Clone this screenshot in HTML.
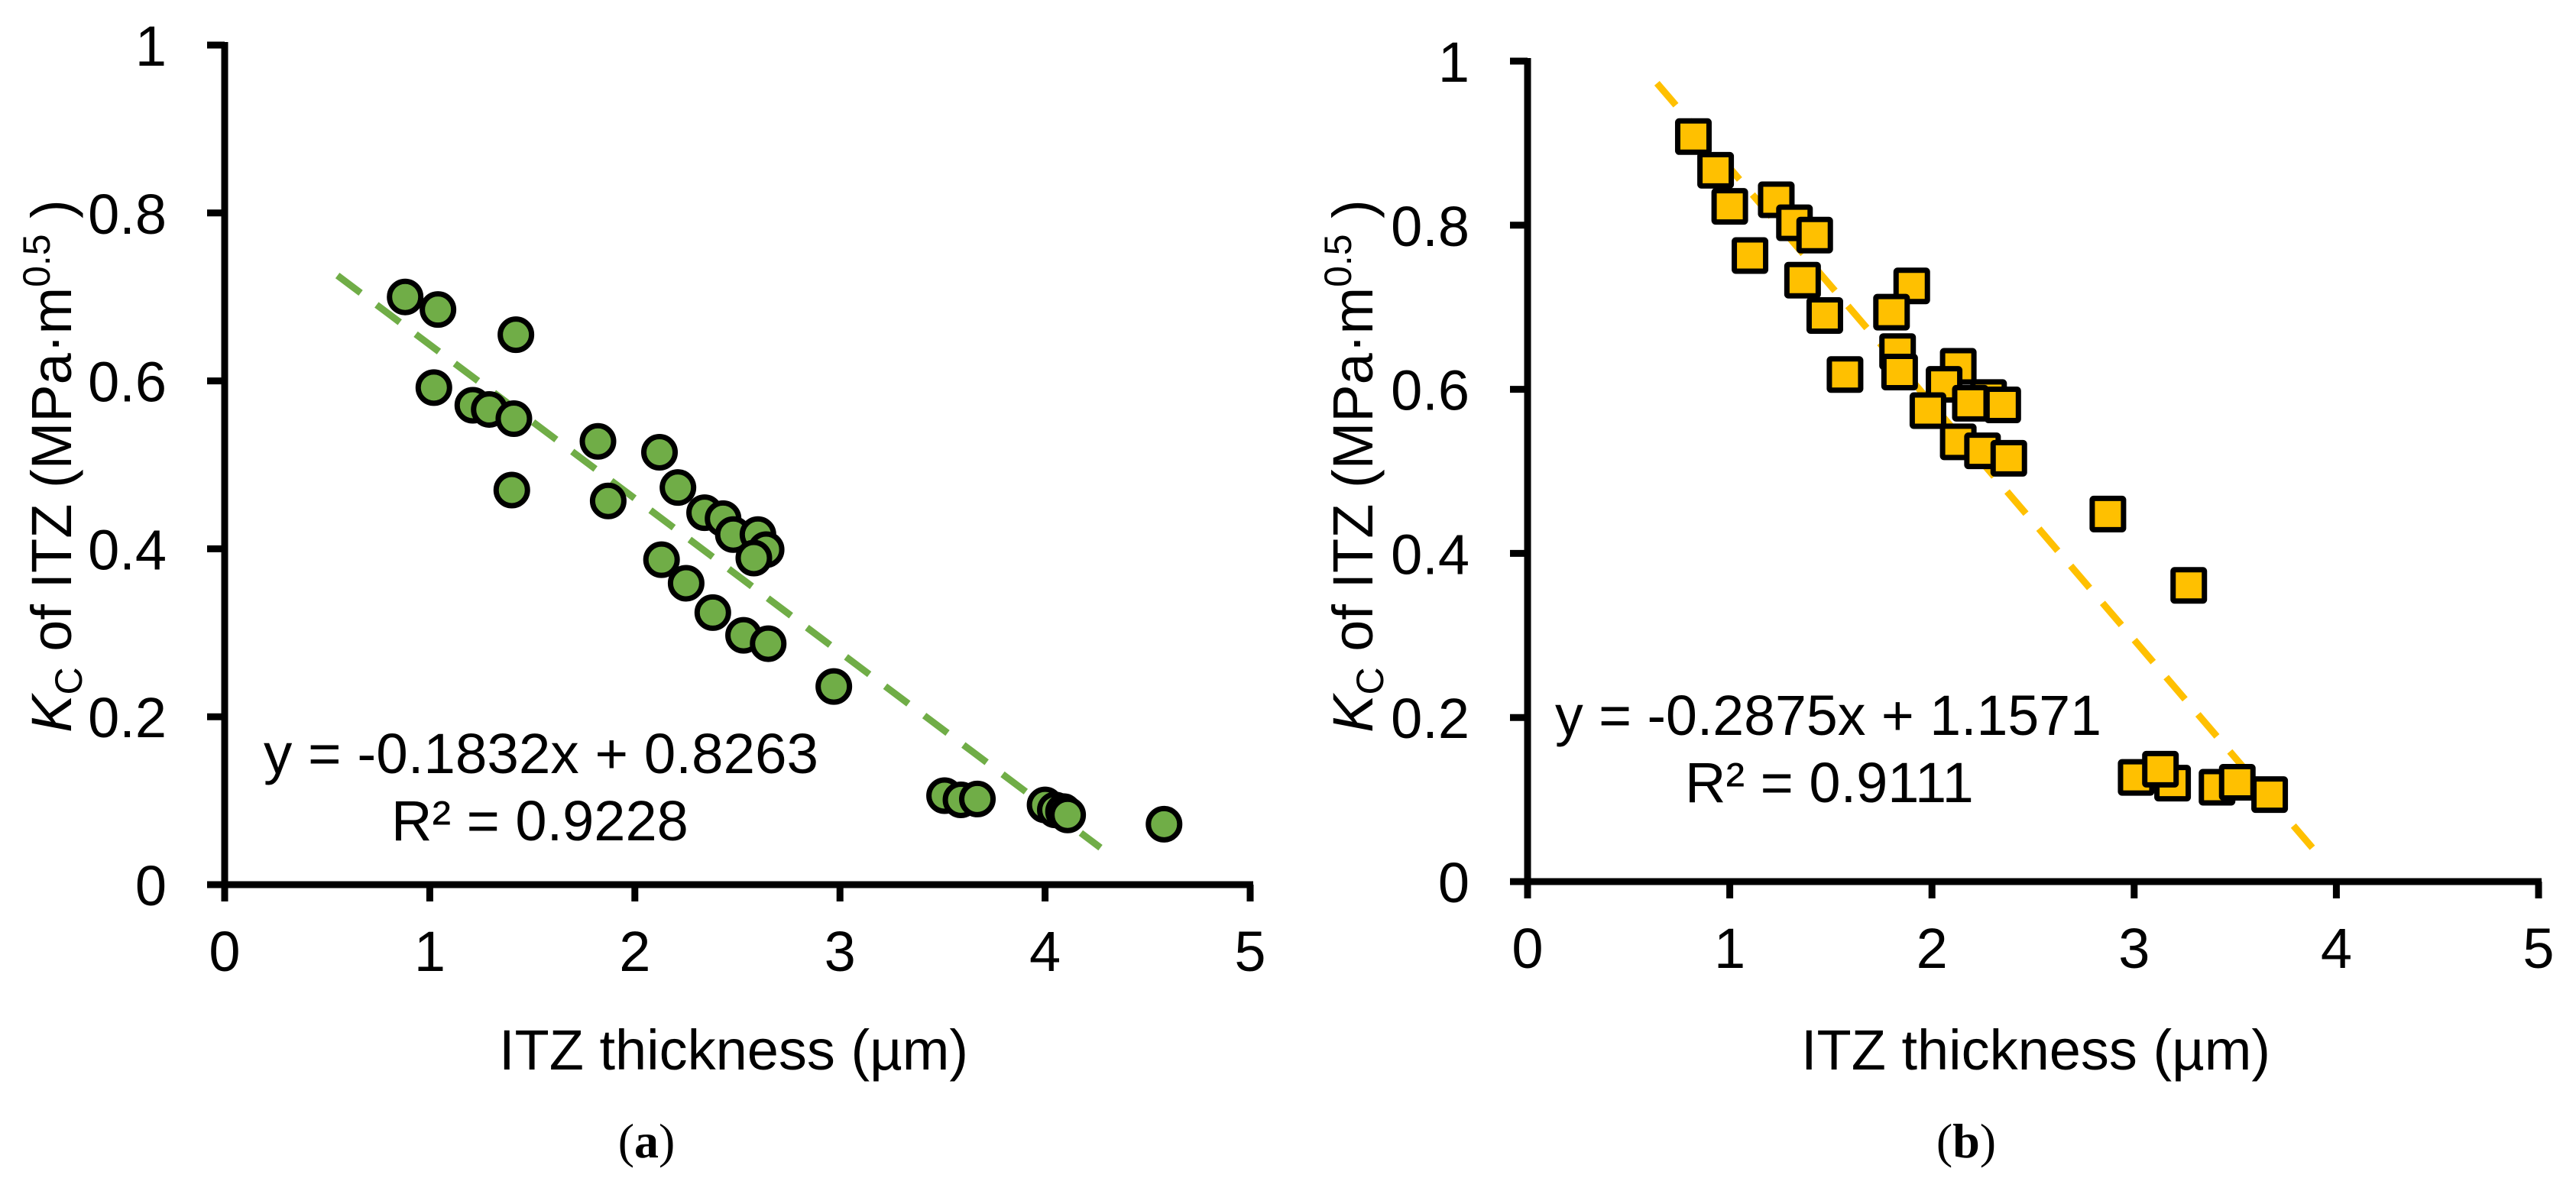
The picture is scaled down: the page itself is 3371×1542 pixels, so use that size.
<!DOCTYPE html>
<html><head><meta charset="utf-8"><style>
html,body{margin:0;padding:0;background:#fff;}
svg{display:block;font-family:"Liberation Sans",Arial,sans-serif;}
</style></head>
<body>
<svg id="fig" width="3371" height="1542" viewBox="0 0 3371 1542" xmlns="http://www.w3.org/2000/svg">
<g id="chartA"></g>
<g id="chartB"></g>
</svg>
<script>
// ---- data: chart (a) ----
const aX = [0.88,1.04,1.42,1.02,1.21,1.29,1.41,1.40,1.82,1.87,2.12,2.21,2.34,2.43,2.48,2.60,2.64,2.58,2.13,2.25,2.38,2.53,2.65,2.97,3.51,3.59,3.67,4.00,4.05,4.09,4.11,4.58];
const aY = [0.70,0.685,0.655,0.592,0.571,0.566,0.555,0.470,0.528,0.457,0.515,0.473,0.443,0.436,0.417,0.417,0.399,0.389,0.387,0.359,0.324,0.297,0.287,0.236,0.106,0.101,0.102,0.095,0.089,0.087,0.083,0.072];
const aSlope = -0.1832, aIntercept = 0.8263;
const aTrendRange = [0.55, 4.27];
// ---- data: chart (b) ----
const bX = [0.82,0.93,1.00,1.23,1.32,1.42,1.10,1.36,1.47,1.90,1.80,1.57,1.83,1.84,2.13,2.06,1.98,2.28,2.19,2.35,2.13,2.25,2.38,2.87,3.27,3.01,3.19,3.13,3.41,3.51,3.67];
const bY = [0.908,0.867,0.823,0.831,0.803,0.788,0.763,0.733,0.690,0.726,0.694,0.618,0.646,0.621,0.628,0.606,0.574,0.590,0.583,0.581,0.536,0.525,0.516,0.448,0.361,0.127,0.120,0.137,0.115,0.121,0.106];
const bSlope = -0.2875, bIntercept = 1.1571;
const bTrendRange = [0.64, 3.91];
// ---- ticks ----
const xTicks = [0,1,2,3,4,5];
const yTicks = [0,0.2,0.4,0.6,0.8,1];
const yTickLabels = ["0","0.2","0.4","0.6","0.8","1"];

const NS = "http://www.w3.org/2000/svg";
function mk(tag, attrs, parent){
  const e = document.createElementNS(NS, tag);
  for (const k in attrs) e.setAttribute(k, attrs[k]);
  parent.appendChild(e);
  return e;
}

function drawChart(g, cfg){
  const sx = v => cfg.x0 + v*(cfg.x5-cfg.x0)/5;
  const sy = v => cfg.y0 - v*(cfg.y0-cfg.y1);
  // axes
  const yAxis = mk('line',{x1:sx(0),y1:sy(1)-4,x2:sx(0),y2:sy(0)+4,stroke:'#000','stroke-width':9},g);
  
  
  const xAxis = mk('line',{x1:sx(0)-23,y1:sy(0),x2:sx(5)+4,y2:sy(0),stroke:'#000','stroke-width':9},g);
  
  
  yTicks.forEach((t,i)=>{
    const tk = mk('line',{x1:sx(0)-23,y1:sy(t),x2:sx(0),y2:sy(t),stroke:'#000','stroke-width':9},g);
    
    
    const lb = mk('text',{x:sx(0)-76,y:sy(t)+27,'font-size':74,'text-anchor':'end',fill:'#000'},g);
    lb.textContent = yTickLabels[i];
    
    
  });
  xTicks.forEach(t=>{
    const tk = mk('line',{x1:sx(t),y1:sy(0),x2:sx(t),y2:sy(0)+22,stroke:'#000','stroke-width':9},g);
    
    
    const lb = mk('text',{x:sx(t),y:sy(0)+113,'font-size':74,'text-anchor':'middle',fill:'#000'},g);
    lb.textContent = String(t);
    
    
  });
  // trendline
  const r = cfg.range;
  const tl = mk('line',{x1:sx(r[0]),y1:sy(cfg.m*r[0]+cfg.c),x2:sx(r[1]),y2:sy(cfg.m*r[1]+cfg.c),stroke:cfg.color,'stroke-width':9,'stroke-dasharray':'38 26'},g);
  
  
  // points
  cfg.xs.forEach((xv,i)=>{
    const cx = sx(xv), cy = sy(cfg.ys[i]);
    let p;
    if (cfg.shape==='circle'){
      p = mk('circle',{cx:cx,cy:cy,r:20.5,fill:cfg.color,stroke:'#000','stroke-width':7},g);
    } else {
      p = mk('rect',{x:cx-20.5,y:cy-20.5,width:41,height:41,rx:2,fill:cfg.color,stroke:'#000','stroke-width':7},g);
    }
    
    
  });
  // equation
  const eq = mk('text',{x:cfg.eqX,y:cfg.eqY,'font-size':74,fill:'#000',textLength:cfg.eqW,lengthAdjust:'spacingAndGlyphs'},g);
  eq.textContent = cfg.eq;
  
  
  const r2 = mk('text',{x:cfg.r2X,y:cfg.r2Y,'font-size':74,fill:'#000'},g);
  r2.textContent = cfg.r2;
  
  
  // x title
  const xt = mk('text',{x:cfg.xtX,y:1400,'font-size':74,'text-anchor':'middle',fill:'#000'},g);
  xt.textContent = 'ITZ thickness (µm)';
  
  
  // y title
  const yt = mk('text',{x:0,y:0,'font-size':74,'text-anchor':'middle',fill:'#000',transform:`translate(${cfg.ytX},610) rotate(-90)`},g);
  
  
  const t1 = mk('tspan',{'font-style':'italic'},yt); t1.textContent='K';
  const t2 = mk('tspan',{'font-size':50,dy:14}, yt); t2.textContent='C';
  const t3 = mk('tspan',{dy:-14}, yt); t3.textContent=' of ITZ (MPa·m';
  const t4 = mk('tspan',{'font-size':50,dy:-28}, yt); t4.textContent='0.5';
  const t5 = mk('tspan',{dy:28}, yt); t5.textContent=' )';
  // caption
  const cap = mk('text',{x:cfg.capX,y:1515,'font-size':64,'text-anchor':'middle',fill:'#000','font-family':'"Liberation Serif",serif'},g);
  
  
  const c1 = mk('tspan',{},cap); c1.textContent='(';
  const c2 = mk('tspan',{'font-weight':'bold'},cap); c2.textContent=cfg.cap;
  const c3 = mk('tspan',{},cap); c3.textContent=')';
}

drawChart(document.getElementById('chartA'),{
  x0:294,x5:1636,y0:1158,y1:59,xs:aX,ys:aY,m:aSlope,c:aIntercept,range:aTrendRange,
  color:'#70AD47',shape:'circle',eq:'y = -0.1832x + 0.8263',eqX:345,eqY:1012,eqW:726,
  r2:'R² = 0.9228',r2X:512,r2Y:1100,xtX:960,ytX:93,capX:846,cap:'a'
});
drawChart(document.getElementById('chartB'),{
  x0:1999,x5:3322,y0:1154,y1:80,xs:bX,ys:bY,m:bSlope,c:bIntercept,range:bTrendRange,
  color:'#FFC000',shape:'square',eq:'y = -0.2875x + 1.1571',eqX:2035,eqY:962,eqW:715,
  r2:'R² = 0.9111',r2X:2205,r2Y:1050,xtX:2664,ytX:1796,capX:2573,cap:'b'
});
</script>
</body></html>
